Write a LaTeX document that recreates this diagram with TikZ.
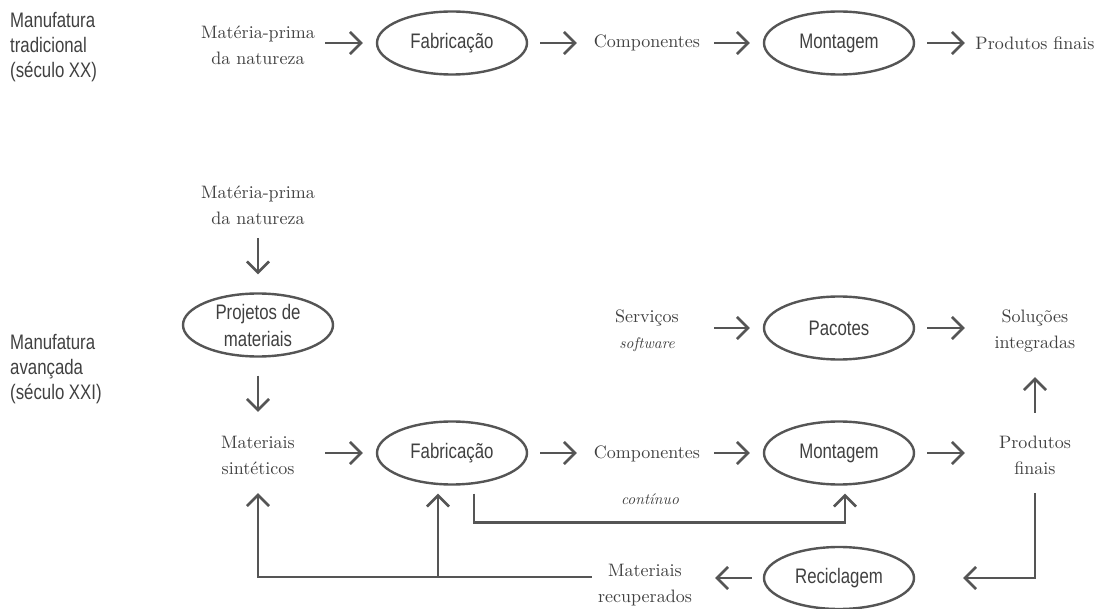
\documentclass[tikz,border=0pt]{standalone}
\usepackage{fontspec}
\usepackage{tikz}
\usetikzlibrary{shapes,arrows.meta,positioning,calc}
\setmainfont{lmroman10-regular.otf}[ItalicFont=lmroman10-italic.otf]
\newfontfamily\condsans{Liberation Sans}[FakeStretch=0.8]
\definecolor{inkgray}{HTML}{555555}
\definecolor{textgray}{HTML}{404040}

\begin{document}
\begin{tikzpicture}[x=1pt, y=-1pt,
    >={Straight Barb[length=11pt,width=22pt]},
    stage/.style={ellipse, draw=inkgray, line width=2.4pt, minimum width=150pt, minimum height=63pt,
        inner sep=0pt, align=center, text=textgray, font=\condsans\fontsize{21}{27}\selectfont},
    item/.style={align=center, minimum width=134pt, minimum height=60pt, inner sep=0pt,
        text=textgray, font=\fontsize{18}{26}\selectfont},
    era/.style={anchor=west, align=left, inner sep=0pt, text=textgray, font=\condsans\fontsize{21}{25}\selectfont},
    note/.style={inner sep=0pt, text=textgray, font=\itshape\fontsize{15.5}{26}\selectfont},
    flow/.style={->, draw=inkgray, line width=2.6pt},
    toStage/.style={flow, shorten >=13pt},
    fromStage/.style={flow, shorten <=12pt, shorten >=3pt}]
    \useasboundingbox (0,0) rectangle (1095,609);

    % Traditional manufacturing
    \node[era] (tradlbl) at (10,47) {Manufatura\\tradicional\\(século XX)};
    \node[item] (raw1) at (258,45) {Matéria-prima\\da natureza};
    \node[stage] (fab1) at (452,43) {Fabricação};
    \node[item] (comp1) at (647,43) {Componentes};
    \node[stage] (mont1) at (839,43) {Montagem};
    \node[item] (prod1) at (1035,43) {Produtos finais};

    % Advanced manufacturing
    \node[era] (advlbl) at (10,369) {Manufatura\\avançada\\(século XXI)};
    \node[item] (raw2) at (258,205) {Matéria-prima\\da natureza};
    \node[stage] (design) at (258,325) {Projetos de\\materiais};
    \node[item] (synth) at (258,455) {Materiais\\sintéticos};
    \node[stage] (fab2) at (452,453) {Fabricação};
    \node[item] (comp2) at (647,454) {Componentes};
    \node[stage] (mont2) at (839,453) {Montagem};
    \node[item] (prod2) at (1035,455) {Produtos\\finais};

    % Services
    \node[item] (serv) at (647,331) {Serviços\\{\itshape\fontsize{15.5}{26}\selectfont software}};
    \node[stage] (pack) at (839,328) {Pacotes};
    \node[item] (solu) at (1035,331) {Soluções\\integradas};

    % Recycling
    \node[stage, minimum height=62pt] (recy) at (839,578) {Reciclagem};
    \node[item] (recov) at (645,585) {Materiais\\recuperados};
    \node[note] (contlbl) at (650,499) {contínuo};

    % Connections (top)
    \draw[toStage] (raw1.east |- fab1) -- (fab1.west);
    \draw[fromStage] (fab1.east) -- (comp1.west);
    \draw[toStage] (comp1.east) -- (mont1.west);
    \draw[fromStage] (mont1.east) -- (prod1.west);

    % Connections (bottom)
    \draw[flow, shorten <=3pt, shorten >=18pt] (raw2) -- (design);
    \draw[flow, shorten <=18pt, shorten >=13pt] (design) -- (synth);
    \draw[toStage] (synth.east |- fab2) -- (fab2.west);
    \draw[fromStage] (fab2.east) -- (fab2.east -| comp2.west);
    \draw[toStage] (comp2.east |- mont2) -- (mont2.west);
    \draw[fromStage] (mont2.east) -- (mont2.east -| prod2.west);
    \draw[flow, shorten <=12pt, shorten >=16pt] (prod2) -- (solu);
    \draw[toStage] (serv.east |- pack) -- (pack.west);
    \draw[fromStage] (pack.east) -- (pack.east -| solu.west);
    \draw[flow] ($(fab2.south)+(22,8)$) -- ++(0,29) -| ($(mont2.south)+(6,8)$);

    % Recycling loop
    \draw[flow, shorten <=8pt, shorten >=48pt] (prod2.south) |- (recy.east);
    \draw[flow, shorten <=11pt, shorten >=3pt] (recy.west) -- (recy.west -| recov.east);
    \draw[flow, shorten >=8pt] ($(recov.west)+(14,-8)$) -| (synth.south);
    \draw[flow, shorten >=8pt] ($(recov.west)+(14,-8)$) -| ($(fab2.south)+(-14,0)$);
\end{tikzpicture}
\end{document}
